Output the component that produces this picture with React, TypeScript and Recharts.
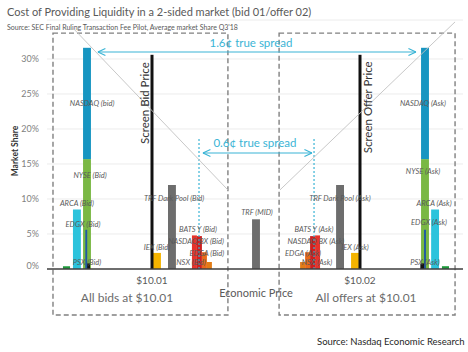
import React from 'react';
import {
  ComposedChart,
  XAxis,
  YAxis,
  CartesianGrid,
  Line,
  Scatter,
  ReferenceArea,
  ReferenceLine,
  ReferenceDot,
} from 'recharts';

// ---------------- DATA ----------------
// x = economic price in cents above $10.00, y = market share (%)
const venues = [
  'PSX (Bid)', 'ARCA (Bid)', 'NYSE (Bid)', 'NASDAQ (bid)', 'Other (Bid)', 'EDGX (Bid)',
  'IEX (Bid)', 'TRF Dark Pool (Bid)', 'BATS Y (Bid)', 'NASDAQ BX (Bid)', 'EDGA (Bid)', 'NSX (Bid)',
  'TRF (MID)',
  'NSX (Ask)', 'EDGA (Ask)', 'NASDAQ BX (Ask)', 'BATS Y (Ask)', 'TRF Dark Pool (Ask)', 'IEX (Ask)',
  'NYSE (Ask)', 'NASDAQ (Ask)', 'Other (Ask)', 'EDGX (Ask)', 'ARCA (Ask)', 'PSX (Ask)',
];
const economicPrice = [
  0.589, 0.639, 0.6875, 0.6875, 0.692, 0.684,
  1.024, 1.096, 1.204, 1.228, 1.252, 1.276,
  1.5,
  1.724, 1.748, 1.772, 1.796, 1.904, 1.976,
  2.3125, 2.3125, 2.300, 2.3125, 2.361, 2.411,
];
const marketShare = [
  0.4, 8.5, 15.7, 15.9, 0.8, 5.6,
  2.3, 12.0, 4.8, 4.7, 2.4, 1.0,
  7.1,
  1.0, 2.4, 4.7, 4.8, 12.0, 2.3,
  15.7, 15.9, 0.8, 5.6, 8.5, 0.4,
];
const stackedOn = [
  '', '', '', 'NYSE (Bid)', '', '',
  '', '', '', '', '', '',
  '',
  '', '', '', '', '', '',
  '', 'NYSE (Ask)', '', '', '', '',
];

const yTicks = [0, 5, 10, 15, 20, 25, 30];
const xTicks = [1, 2];

// bar labels
const barLabelText = [
  'NASDAQ (bid)', 'NYSE (Bid)', 'ARCA (Bid)', 'EDGX (Bid)', 'PSX (Bid)', 'TRF Dark Pool (Bid)',
  'IEX (Bid)', 'BATS Y (Bid)', 'NASDAQ BX (Bid)', 'EDGA (Bid)', 'NSX (Bid)', 'TRF (MID)',
  'TRF Dark Pool (Ask)', 'BATS Y (Ask)', 'NASDAQ BX (Ask)', 'EDGA (Ask)', 'NSX (Ask)', 'IEX (Ask)',
  'NASDAQ (Ask)', 'NYSE (Ask)', 'ARCA (Ask)', 'EDGX (Ask)', 'PSX (Ask)',
];
const barLabelPrice = [
  0.712, 0.702, 0.639, 0.668, 0.6875, 1.106,
  1.024, 1.221, 1.212, 1.264, 1.1875, 1.505,
  1.904, 1.779, 1.788, 1.726, 1.793, 1.976,
  2.303, 2.303, 2.356, 2.332, 2.3125,
];
const barLabelShare = [
  23.7, 13.3, 9.3, 6.4, 0.86, 10.1,
  3.1, 5.7, 3.9, 2.2, 0.9, 8.0,
  10.1, 5.7, 3.9, 2.2, 0.9, 3.1,
  23.7, 13.9, 9.4, 6.6, 0.86,
];

// screen quotes (cents above $10.00) and their height
const screenQuoteText = ['Screen Bid Price', 'Screen Offer Price'];
const screenQuotePrice = [1.0, 2.0];
const screenQuoteTop = [30.6, 30.6];
const screenLabelPrice = [0.966, 2.034];
const screenLabelShare = [23.7, 23.1];

// cost lines
const bidCostLine = [
  { x: 0.606, y: 34.86 },
  { x: 1.365, y: 11.29 },
];
const askCostLine = [
  { x: 1.615, y: 11.29 },
  { x: 2.457, y: 35.3 },
];

// true spreads
const spreadText = ['1.6¢ true spread', '0.6¢ true spread'];
const spreadFrom = [0.74, 1.245];
const spreadTo = [2.269, 1.769];
const spreadLevel = [31.0, 16.57];
const spreadLabelPrice = [1.476, 1.495];
const spreadLabelShare = [32.3, 18.0];

// true price markers
const truePrice = [1.226, 1.779];
const truePriceTop = [18.7, 18.7];

// groups of quotes
const groupText = ['All bids at $10.01', 'All offers at $10.01'];
const groupFrom = [0.524, 1.611];
const groupTo = [1.365, 2.457];
const groupBottom = -6.57;
const groupTop = 33.7;
const groupLabelPrice = [0.88, 2.029];
const groupLabelShare = -4.14;

// ---------------- STYLES ----------------
const FONT = 'Lato, "Open Sans", sans-serif';
const CYAN = '#3ab4d5';
const venueColor: Record<string, string> = {
  PSX: '#1f9a3c',
  ARCA: '#2cc3dc',
  NYSE: '#7ab844',
  NASDAQ: '#1795c1',
  EDGX: '#1f58a6',
  Other: '#151515',
  IEX: '#f5b400',
  'TRF Dark Pool': '#6d6d6d',
  'BATS Y': '#e5332b',
  'NASDAQ BX': '#cc2020',
  EDGA: '#e8691a',
  NSX: '#e27c16',
  TRF: '#6d6d6d',
};
const venueWidth: Record<string, number> = {
  PSX: 0.034,
  ARCA: 0.038,
  NYSE: 0.038,
  NASDAQ: 0.038,
  EDGX: 0.009,
  Other: 0.02,
  IEX: 0.038,
  'TRF Dark Pool': 0.038,
  'BATS Y': 0.024,
  'NASDAQ BX': 0.024,
  EDGA: 0.024,
  NSX: 0.024,
  TRF: 0.038,
};
const ARROW_LEN = 0.036;
const ARROW_HALF = 0.5;

const venueKey = (n: string) => n.replace(/ \((Bid|bid|Ask|MID)\)$/, '');

const bars = venues.map((name, i) => {
  const base = stackedOn[i] ? marketShare[venues.indexOf(stackedOn[i])] : 0;
  const key = venueKey(name);
  return {
    name,
    x: economicPrice[i],
    base,
    top: base + marketShare[i],
    color: venueColor[key],
    w: venueWidth[key],
  };
});

const barLabelData = barLabelText.map((t, i) => ({ text: t, x: barLabelPrice[i], y: barLabelShare[i] }));
const screenLabelData = screenQuoteText.map((t, i) => ({ text: t, x: screenLabelPrice[i], y: screenLabelShare[i] }));
const spreadLabelData = spreadText.map((t, i) => ({ text: t, x: spreadLabelPrice[i], y: spreadLabelShare[i] }));

const BarLabelShape = (props: any) => {
  const { cx, cy, payload } = props;
  if (cx == null || cy == null) return <g />;
  return (
    <text x={cx} y={cy} textAnchor="middle" dominantBaseline="central" fontSize={7.5} fontStyle="italic" fill="#595959" fontFamily={FONT}>
      {payload.text}
    </text>
  );
};
const ScreenLabelShape = (props: any) => {
  const { cx, cy, payload } = props;
  if (cx == null || cy == null) return <g />;
  return (
    <text x={cx} y={cy} textAnchor="middle" dominantBaseline="central" fontSize={11.5} fill="#333" fontFamily={FONT} transform={`rotate(-90 ${cx} ${cy})`}>
      {payload.text}
    </text>
  );
};
const SpreadLabelShape = (props: any) => {
  const { cx, cy, payload } = props;
  if (cx == null || cy == null) return <g />;
  return (
    <text x={cx} y={cy} textAnchor="middle" dominantBaseline="central" fontSize={11.5} fill={CYAN} fontFamily={FONT}>
      {payload.text}
    </text>
  );
};

const YTick = (props: any) => {
  const { x, y, payload } = props;
  const dy = payload.value === 0 ? -4 : 0;
  return (
    <text x={x} y={y + dy} textAnchor="end" dominantBaseline="central" fontSize={9} fill="#7f7f7f" fontFamily={FONT}>
      {payload.value}%
    </text>
  );
};

export default function App() {
  const arrowLines: React.ReactElement[] = [];
  spreadFrom.forEach((from, i) => {
    const to = spreadTo[i];
    const y = spreadLevel[i];
    const common = { stroke: CYAN, strokeWidth: 1.2, ifOverflow: 'visible' as const };
    arrowLines.push(<ReferenceLine key={`s${i}`} segment={[{ x: from, y }, { x: to, y }]} {...common} />);
    arrowLines.push(<ReferenceLine key={`s${i}a`} segment={[{ x: from, y }, { x: from + ARROW_LEN, y: y + ARROW_HALF }]} {...common} />);
    arrowLines.push(<ReferenceLine key={`s${i}b`} segment={[{ x: from, y }, { x: from + ARROW_LEN, y: y - ARROW_HALF }]} {...common} />);
    arrowLines.push(<ReferenceLine key={`s${i}c`} segment={[{ x: to, y }, { x: to - ARROW_LEN, y: y + ARROW_HALF }]} {...common} />);
    arrowLines.push(<ReferenceLine key={`s${i}d`} segment={[{ x: to, y }, { x: to - ARROW_LEN, y: y - ARROW_HALF }]} {...common} />);
  });

  return (
    <div style={{ position: 'absolute', left: 0, top: 0, width: 468, height: 352, background: '#fff', fontFamily: FONT }}>
      <div style={{ position: 'absolute', left: 7, top: 5, fontSize: 11, color: '#595959', whiteSpace: 'nowrap', lineHeight: '14px' }}>
        Cost of Providing Liquidity in a 2-sided market (bid 01/offer 02)
      </div>
      <div style={{ position: 'absolute', left: 7, top: 22, fontSize: 7, color: '#595959', whiteSpace: 'nowrap', lineHeight: '10px' }}>
        Source: SEC Final Ruling Transaction Fee Pilot, Average market Share Q3'18
      </div>
      <ComposedChart width={468} height={352} margin={{ top: 20, right: 5, bottom: 0, left: 0 }}>
        <CartesianGrid horizontal vertical={false} stroke="#ececec" />
        <XAxis
          type="number"
          dataKey="x"
          domain={[0.4952, 2.4952]}
          ticks={xTicks}
          tickFormatter={(v: number) => `$${(10 + v / 100).toFixed(2)}`}
          axisLine={{ stroke: '#404040', strokeWidth: 1.5 }}
          tickLine={false}
          height={83}
          tick={{ fontSize: 10, fill: '#595959', fontFamily: FONT }}
        />
        <YAxis
          type="number"
          dataKey="y"
          domain={[0, 35.571]}
          ticks={yTicks}
          width={47}
          axisLine={false}
          tickLine={false}
          tick={<YTick />}
        />
        {groupFrom.map((g, i) => (
          <ReferenceArea
            key={`grp${i}`}
            x1={g}
            x2={groupTo[i]}
            y1={groupBottom}
            y2={groupTop}
            fill="none"
            fillOpacity={0}
            stroke="#808080"
            strokeWidth={1.4}
            strokeDasharray="5 3"
            ifOverflow="visible"
          />
        ))}
        {bars.map((b) => (
          <ReferenceArea
            key={b.name}
            x1={b.x - b.w / 2}
            x2={b.x + b.w / 2}
            y1={b.base}
            y2={b.top}
            fill={b.color}
            fillOpacity={1}
            stroke="none"
            ifOverflow="visible"
          />
        ))}
        {screenQuotePrice.map((p, i) => (
          <ReferenceLine
            key={`sq${i}`}
            segment={[{ x: p, y: 0 }, { x: p, y: screenQuoteTop[i] }]}
            stroke="#111"
            strokeWidth={3}
            ifOverflow="visible"
          />
        ))}
        {truePrice.map((p, i) => (
          <ReferenceLine
            key={`tp${i}`}
            segment={[{ x: p, y: 0 }, { x: p, y: truePriceTop[i] }]}
            stroke={CYAN}
            strokeWidth={1.2}
            strokeDasharray="2 2"
            ifOverflow="visible"
          />
        ))}
        {arrowLines}
        <Line data={bidCostLine} dataKey="y" stroke="#c2c2c2" strokeWidth={0.9} dot={false} isAnimationActive={false} />
        <Line data={askCostLine} dataKey="y" stroke="#c2c2c2" strokeWidth={0.9} dot={false} isAnimationActive={false} />
        <Scatter data={barLabelData} dataKey="y" shape={BarLabelShape} isAnimationActive={false} />
        <Scatter data={screenLabelData} dataKey="y" shape={ScreenLabelShape} isAnimationActive={false} />
        <Scatter data={spreadLabelData} dataKey="y" shape={SpreadLabelShape} isAnimationActive={false} />
        {groupText.map((t, i) => (
          <ReferenceDot
            key={`gl${i}`}
            x={groupLabelPrice[i]}
            y={groupLabelShare}
            r={0}
            fill="none"
            stroke="none"
            ifOverflow="visible"
            label={{ value: t, position: 'center', fontSize: 12, fill: '#6b6b6b', fontFamily: FONT }}
          />
        ))}
        <ReferenceDot
          x={1.5}
          y={-3.43}
          r={0}
          fill="none"
          stroke="none"
          ifOverflow="visible"
          label={{ value: 'Economic Price', position: 'center', fontSize: 11, fill: '#595959', fontFamily: FONT }}
        />
        <ReferenceDot
          x={0.341}
          y={16.86}
          r={0}
          fill="none"
          stroke="none"
          ifOverflow="visible"
          label={{ value: 'Market Share', position: 'center', angle: -90, fontSize: 8.5, fontWeight: 'bold', fill: '#333', fontFamily: FONT }}
        />
      </ComposedChart>
      <div style={{ position: 'absolute', left: 317, top: 336, fontSize: 9.5, color: '#262626', whiteSpace: 'nowrap', lineHeight: '12px' }}>
        Source: Nasdaq Economic Research
      </div>
    </div>
  );
}
